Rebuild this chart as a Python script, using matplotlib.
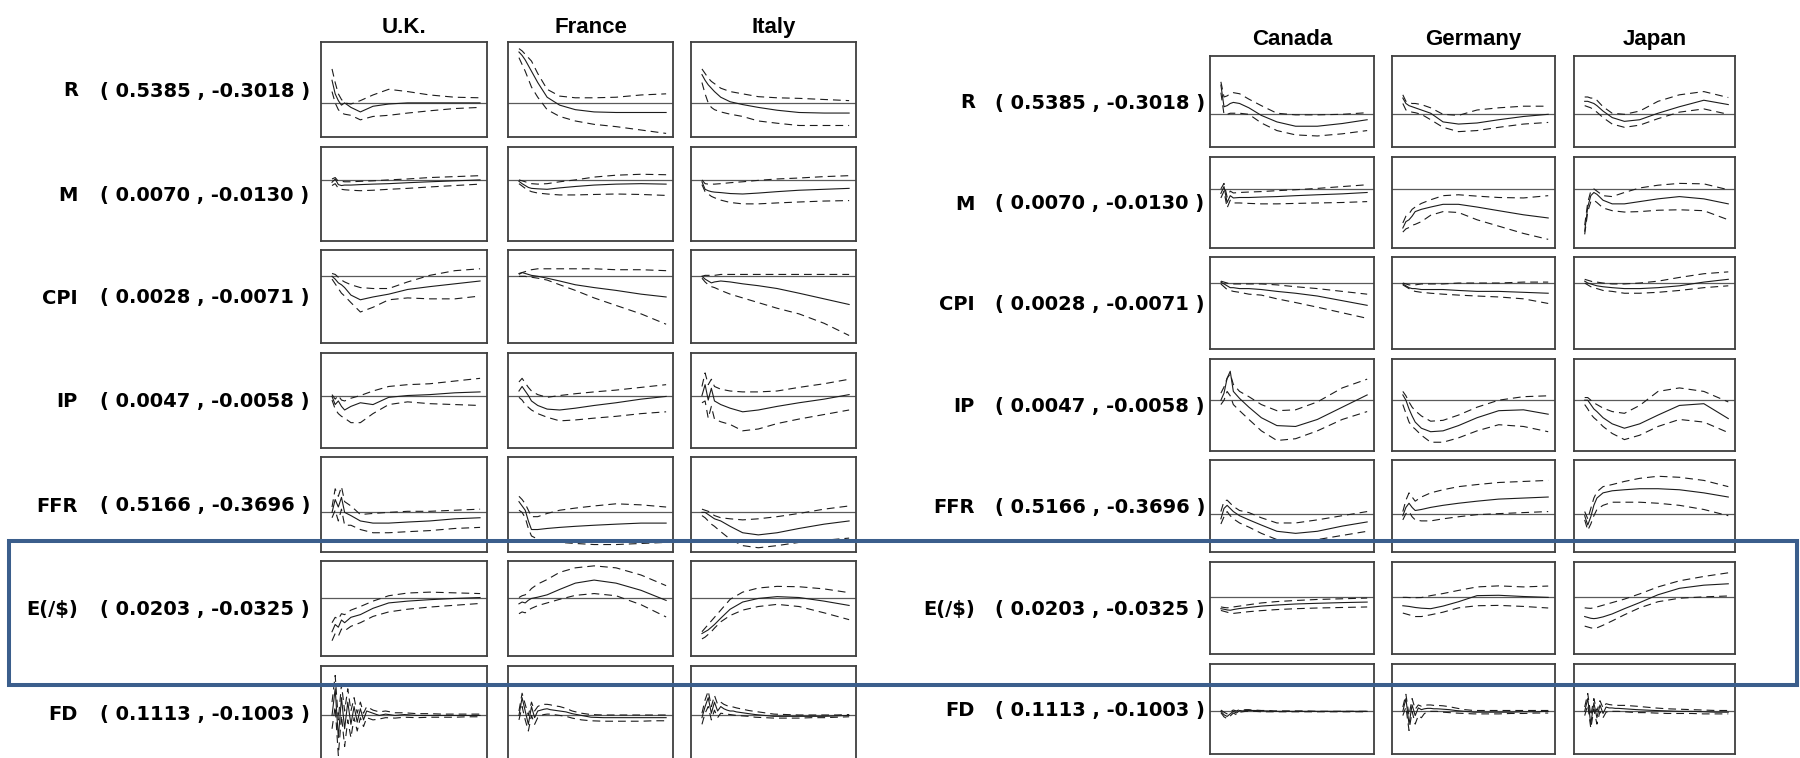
import matplotlib
matplotlib.use("Agg")
import matplotlib.pyplot as plt
from matplotlib.patches import Rectangle

# ---------------------------------------------------------------------------
# Data: impulse responses (median, lower and upper bands) by country
# ---------------------------------------------------------------------------
HORIZON = [1, 2, 3, 4, 5, 7, 10, 14, 19, 25, 32, 40, 48]
HORIZON_FD = [1, 2, 3, 4, 5, 6, 7, 8, 9, 10, 11, 12, 14, 16, 18, 21, 24, 28,
              32, 36, 40, 44, 48]

COUNTRIES_LEFT = ["U.K.", "France", "Italy"]
COUNTRIES_RIGHT = ["Canada", "Germany", "Japan"]
VARIABLES = ["R", "M", "CPI", "IP", "FFR", "E(/$)", "FD"]

# (upper bound, lower bound) of the vertical scale for each variable
BOUNDS = {
    "R": (0.5385, -0.3018),
    "M": (0.0070, -0.0130),
    "CPI": (0.0028, -0.0071),
    "IP": (0.0047, -0.0058),
    "FFR": (0.5166, -0.3696),
    "E(/$)": (0.0203, -0.0325),
    "FD": (0.1113, -0.1003),
}

R_MED = {
    "U.K.": [0.20, 0.08, 0.02, -0.02, 0.00, -0.04, -0.08, -0.03, -0.01, 0.00, 0.00, 0.00, 0.00],
    "France": [0.45, 0.42, 0.38, 0.33, 0.28, 0.18, 0.05, -0.02, -0.06, -0.08, -0.085, -0.085, -0.085],
    "Italy": [0.25, 0.20, 0.16, 0.13, 0.10, 0.05, 0.01, -0.015, -0.04, -0.065, -0.085, -0.09, -0.09],
    "Canada": [0.27, 0.07, 0.08, 0.10, 0.11, 0.10, 0.06, -0.01, -0.07, -0.11, -0.11, -0.085, -0.05],
    "Germany": [0.15, 0.10, 0.08, 0.07, 0.06, 0.04, 0.01, -0.07, -0.09, -0.08, -0.05, -0.02, 0.00],
    "Japan": [0.12, 0.12, 0.11, 0.10, 0.08, 0.03, -0.03, -0.065, -0.05, 0.01, 0.07, 0.13, 0.09],
}
R_HI = {
    "U.K.": [0.30, 0.18, 0.08, 0.03, 0.00, -0.01, 0.02, 0.07, 0.12, 0.10, 0.07, 0.05, 0.045],
    "France": [0.48, 0.46, 0.43, 0.40, 0.37, 0.26, 0.12, 0.06, 0.045, 0.045, 0.05, 0.07, 0.08],
    "Italy": [0.30, 0.26, 0.22, 0.19, 0.17, 0.13, 0.10, 0.08, 0.055, 0.045, 0.04, 0.03, 0.02],
    "Canada": [0.30, 0.16, 0.17, 0.19, 0.20, 0.19, 0.14, 0.08, 0.01, -0.005, -0.005, 0.00, 0.015],
    "Germany": [0.18, 0.12, 0.11, 0.10, 0.10, 0.09, 0.06, 0.00, -0.01, 0.04, 0.06, 0.075, 0.075],
    "Japan": [0.16, 0.16, 0.15, 0.15, 0.13, 0.07, 0.01, 0.00, 0.03, 0.12, 0.18, 0.21, 0.155],
}
R_LO = {
    "U.K.": [0.10, 0.00, -0.06, -0.09, -0.10, -0.11, -0.15, -0.12, -0.11, -0.09, -0.07, -0.05, -0.04],
    "France": [0.40, 0.34, 0.28, 0.21, 0.14, 0.05, -0.06, -0.12, -0.16, -0.19, -0.21, -0.24, -0.27],
    "Italy": [0.18, 0.08, 0.00, -0.04, -0.06, -0.08, -0.10, -0.12, -0.16, -0.18, -0.20, -0.20, -0.20],
    "Canada": [0.20, 0.00, 0.00, 0.01, 0.01, 0.01, 0.00, -0.08, -0.15, -0.19, -0.20, -0.18, -0.15],
    "Germany": [0.10, 0.04, 0.03, 0.02, 0.015, 0.00, -0.05, -0.12, -0.16, -0.15, -0.12, -0.09, -0.075],
    "Japan": [0.08, 0.07, 0.06, 0.04, 0.02, -0.03, -0.09, -0.12, -0.10, -0.04, 0.02, 0.05, 0.00],
}

M_MED = {
    "U.K.": [-0.0005, 0.0002, -0.0010, -0.0012, -0.0011, -0.0011, -0.0010, -0.0009, -0.0008, -0.0006, -0.0004, -0.0002, 0.0000],
    "France": [-0.0003, -0.0008, -0.0012, -0.0016, -0.0018, -0.0019, -0.0020, -0.0017, -0.0014, -0.0011, -0.0009, -0.0008, -0.0009],
    "Italy": [-0.0004, -0.0020, -0.0023, -0.0025, -0.0026, -0.0027, -0.0029, -0.0030, -0.0028, -0.0025, -0.0022, -0.0020, -0.0018],
    "Canada": [-0.0010, 0.0005, -0.0030, -0.0015, -0.0020, -0.0019, -0.0019, -0.0018, -0.0017, -0.0015, -0.0013, -0.0011, -0.0008],
    "Germany": [-0.0086, -0.0072, -0.0068, -0.0060, -0.0050, -0.0045, -0.0040, -0.0034, -0.0034, -0.0040, -0.0048, -0.0057, -0.0064],
    "Japan": [-0.0093, -0.0040, -0.0015, -0.0008, -0.0012, -0.0025, -0.0033, -0.0033, -0.0028, -0.0022, -0.0017, -0.0022, -0.0033],
}
M_HI = {
    "U.K.": [0.0002, 0.0005, -0.0003, -0.0003, -0.0004, -0.0004, -0.0003, -0.0002, 0.0000, 0.0002, 0.0005, 0.0007, 0.0009],
    "France": [0.0000, -0.0002, -0.0004, -0.0006, -0.0008, -0.0009, -0.0008, -0.0004, 0.0000, 0.0006, 0.0010, 0.0012, 0.0011],
    "Italy": [0.0000, -0.0008, -0.0009, -0.0009, -0.0009, -0.0008, -0.0006, -0.0004, -0.0001, 0.0002, 0.0004, 0.0007, 0.0009],
    "Canada": [0.0000, 0.0012, -0.0018, -0.0005, -0.0009, -0.0008, -0.0007, -0.0006, -0.0004, -0.0002, 0.0001, 0.0005, 0.0009],
    "Germany": [-0.0075, -0.0060, -0.0055, -0.0045, -0.0040, -0.0032, -0.0024, -0.0015, -0.0013, -0.0016, -0.0019, -0.0020, -0.0015],
    "Japan": [-0.0080, -0.0030, -0.0005, 0.0000, -0.0005, -0.0015, -0.0017, -0.0008, 0.0002, 0.0008, 0.0012, 0.0011, -0.0002],
}
M_LO = {
    "U.K.": [-0.0012, -0.0008, -0.0018, -0.0020, -0.0021, -0.0022, -0.0023, -0.0022, -0.0020, -0.0018, -0.0015, -0.0012, -0.0009],
    "France": [-0.0008, -0.0013, -0.0018, -0.0022, -0.0025, -0.0028, -0.0030, -0.0032, -0.0032, -0.0031, -0.0030, -0.0031, -0.0033],
    "Italy": [-0.0010, -0.0025, -0.0030, -0.0035, -0.0038, -0.0043, -0.0048, -0.0051, -0.0051, -0.0049, -0.0047, -0.0045, -0.0044],
    "Canada": [-0.0020, -0.0005, -0.0042, -0.0025, -0.0031, -0.0031, -0.0032, -0.0033, -0.0033, -0.0032, -0.0031, -0.0030, -0.0028],
    "Germany": [-0.0095, -0.0088, -0.0085, -0.0080, -0.0078, -0.0072, -0.0058, -0.0050, -0.0052, -0.0068, -0.0082, -0.0098, -0.0111],
    "Japan": [-0.0100, -0.0050, -0.0028, -0.0025, -0.0030, -0.0042, -0.0048, -0.0051, -0.0050, -0.0047, -0.0046, -0.0048, -0.0068],
}

CPI_MED = {
    "U.K.": [0.0000, -0.0003, -0.0007, -0.0009, -0.0012, -0.0020, -0.0025, -0.0022, -0.0019, -0.0014, -0.0011, -0.0008, -0.0005],
    "France": [0.0003, 0.0004, 0.0003, 0.0002, 0.0001, 0.0000, -0.0002, -0.0005, -0.0009, -0.0012, -0.0015, -0.0019, -0.0022],
    "Italy": [0.0000, -0.0003, -0.0005, -0.0007, -0.0006, -0.0005, -0.0006, -0.0008, -0.0010, -0.0013, -0.0018, -0.0024, -0.0030],
    "Canada": [0.0001, -0.0001, -0.0003, -0.0005, -0.0005, -0.0006, -0.0006, -0.0007, -0.0009, -0.0011, -0.0014, -0.0019, -0.0024],
    "Germany": [-0.0001, -0.0003, -0.0005, -0.0006, -0.0006, -0.0007, -0.0007, -0.0007, -0.0008, -0.0009, -0.0009, -0.0010, -0.0011],
    "Japan": [0.0002, 0.0000, -0.0001, -0.0002, -0.0003, -0.0004, -0.0005, -0.0006, -0.0006, -0.0005, -0.0003, 0.0001, 0.0004],
}
CPI_HI = {
    "U.K.": [0.0003, 0.0002, -0.0001, -0.0004, -0.0006, -0.0009, -0.0012, -0.0013, -0.0013, -0.0006, 0.0001, 0.0006, 0.0008],
    "France": [0.0002, 0.0004, 0.0005, 0.0006, 0.0007, 0.0008, 0.0008, 0.0008, 0.0008, 0.0008, 0.0007, 0.0007, 0.0006],
    "Italy": [0.0000, 0.0001, 0.0001, 0.0001, 0.0001, 0.0002, 0.0002, 0.0002, 0.0002, 0.0002, 0.0002, 0.0002, 0.0002],
    "Canada": [0.0002, 0.0001, 0.0000, -0.0001, -0.0001, -0.0001, -0.0001, -0.0001, -0.0002, -0.0004, -0.0006, -0.0009, -0.0012],
    "Germany": [0.0000, -0.0001, -0.0002, -0.0002, -0.0002, -0.0001, -0.0001, -0.0001, 0.0000, 0.0000, 0.0000, 0.0001, 0.0001],
    "Japan": [0.0004, 0.0003, 0.0002, 0.0001, 0.0001, 0.0000, -0.0001, -0.0001, 0.0000, 0.0002, 0.0006, 0.0010, 0.0012],
}
CPI_LO = {
    "U.K.": [-0.0003, -0.0008, -0.0013, -0.0018, -0.0021, -0.0028, -0.0038, -0.0033, -0.0025, -0.0023, -0.0024, -0.0024, -0.0021],
    "France": [0.0000, 0.0000, 0.0000, -0.0001, -0.0001, -0.0002, -0.0004, -0.0009, -0.0015, -0.0023, -0.0031, -0.0040, -0.0051],
    "Italy": [-0.0002, -0.0006, -0.0009, -0.0011, -0.0012, -0.0015, -0.0019, -0.0023, -0.0028, -0.0034, -0.0040, -0.0050, -0.0063],
    "Canada": [-0.0001, -0.0004, -0.0007, -0.0008, -0.0009, -0.0010, -0.0012, -0.0013, -0.0017, -0.0021, -0.0026, -0.0032, -0.0038],
    "Germany": [-0.0002, -0.0004, -0.0006, -0.0008, -0.0009, -0.0010, -0.0011, -0.0012, -0.0013, -0.0014, -0.0015, -0.0017, -0.0022],
    "Japan": [0.0000, -0.0002, -0.0004, -0.0005, -0.0006, -0.0008, -0.0009, -0.0011, -0.0011, -0.0010, -0.0008, -0.0005, -0.0003],
}

IP_MED = {
    "U.K.": [-0.0001, -0.0010, -0.0006, -0.0012, -0.0016, -0.0012, -0.0008, -0.0010, -0.0002, 0.0000, 0.0001, 0.0003, 0.0004],
    "France": [0.0005, 0.0010, 0.0005, 0.0000, -0.0006, -0.0011, -0.0015, -0.0016, -0.0014, -0.0011, -0.0008, -0.0004, -0.0001],
    "Italy": [0.0000, 0.0012, -0.0005, 0.0008, -0.0006, -0.0010, -0.0014, -0.0018, -0.0016, -0.0012, -0.0008, -0.0004, 0.0001],
    "Canada": [0.0000, 0.0008, 0.0025, 0.0033, 0.0010, 0.0002, -0.0008, -0.0020, -0.0029, -0.0030, -0.0022, -0.0008, 0.0006],
    "Germany": [0.0006, 0.0000, -0.0010, -0.0018, -0.0025, -0.0032, -0.0036, -0.0035, -0.0029, -0.0020, -0.0012, -0.0011, -0.0016],
    "Japan": [0.0000, 0.0000, -0.0005, -0.0010, -0.0013, -0.0020, -0.0027, -0.0032, -0.0027, -0.0017, -0.0006, -0.0004, -0.0021],
}
IP_HI = {
    "U.K.": [0.0001, -0.0004, 0.0000, -0.0005, -0.0006, -0.0003, 0.0000, 0.0005, 0.0010, 0.0012, 0.0013, 0.0016, 0.0019],
    "France": [0.0015, 0.0019, 0.0014, 0.0009, 0.0005, 0.0001, -0.0002, 0.0000, 0.0002, 0.0004, 0.0006, 0.0009, 0.0012],
    "Italy": [0.0010, 0.0025, 0.0012, 0.0018, 0.0010, 0.0007, 0.0005, 0.0004, 0.0004, 0.0005, 0.0009, 0.0013, 0.0018],
    "Canada": [0.0008, 0.0015, 0.0025, 0.0030, 0.0018, 0.0010, 0.0004, -0.0005, -0.0012, -0.0011, -0.0002, 0.0014, 0.0024],
    "Germany": [0.0010, 0.0005, -0.0002, -0.0008, -0.0012, -0.0018, -0.0024, -0.0023, -0.0017, -0.0008, 0.0000, 0.0004, 0.0005],
    "Japan": [0.0003, 0.0003, 0.0000, -0.0003, -0.0005, -0.0009, -0.0013, -0.0015, -0.0006, 0.0010, 0.0014, 0.0010, -0.0002],
}
IP_LO = {
    "U.K.": [-0.0005, -0.0015, -0.0020, -0.0023, -0.0025, -0.0030, -0.0030, -0.0020, -0.0010, -0.0007, -0.0009, -0.0010, -0.0011],
    "France": [-0.0002, -0.0005, -0.0010, -0.0013, -0.0016, -0.0020, -0.0024, -0.0028, -0.0027, -0.0025, -0.0023, -0.0020, -0.0018],
    "Italy": [-0.0008, -0.0006, -0.0025, -0.0012, -0.0026, -0.0029, -0.0032, -0.0039, -0.0037, -0.0031, -0.0026, -0.0021, -0.0016],
    "Canada": [-0.0005, 0.0000, 0.0010, 0.0005, -0.0005, -0.0012, -0.0022, -0.0035, -0.0046, -0.0044, -0.0035, -0.0022, -0.0013],
    "Germany": [-0.0005, -0.0015, -0.0025, -0.0030, -0.0033, -0.0040, -0.0048, -0.0048, -0.0043, -0.0035, -0.0028, -0.0030, -0.0036],
    "Japan": [-0.0005, -0.0010, -0.0016, -0.0020, -0.0023, -0.0030, -0.0038, -0.0045, -0.0040, -0.0030, -0.0022, -0.0025, -0.0037],
}

FFR_MED = {
    "U.K.": [0.00, 0.12, 0.05, 0.14, 0.00, -0.03, -0.08, -0.10, -0.10, -0.09, -0.08, -0.06, -0.05],
    "France": [0.10, 0.06, 0.02, -0.08, -0.16, -0.16, -0.15, -0.14, -0.13, -0.12, -0.11, -0.10, -0.10],
    "Italy": [0.00, 0.00, -0.02, -0.04, -0.06, -0.08, -0.13, -0.19, -0.21, -0.19, -0.15, -0.11, -0.08],
    "Canada": [-0.05, 0.05, 0.08, 0.05, 0.02, -0.02, -0.06, -0.11, -0.17, -0.19, -0.17, -0.12, -0.08],
    "Germany": [-0.02, 0.06, 0.10, 0.06, 0.03, 0.04, 0.06, 0.08, 0.10, 0.12, 0.14, 0.15, 0.16],
    "Japan": [-0.02, -0.11, -0.03, 0.08, 0.15, 0.20, 0.22, 0.23, 0.24, 0.24, 0.23, 0.20, 0.16],
}
FFR_HI = {
    "U.K.": [0.05, 0.22, 0.15, 0.24, 0.10, 0.06, -0.02, -0.01, 0.00, 0.01, 0.01, 0.02, 0.03],
    "France": [0.15, 0.12, 0.08, 0.02, -0.04, -0.04, -0.01, 0.02, 0.04, 0.06, 0.08, 0.07, 0.05],
    "Italy": [0.03, 0.02, 0.01, -0.01, -0.03, -0.05, -0.06, -0.07, -0.06, -0.04, -0.01, 0.03, 0.06],
    "Canada": [0.02, 0.12, 0.13, 0.10, 0.07, 0.03, 0.01, -0.04, -0.09, -0.09, -0.06, -0.02, 0.02],
    "Germany": [0.02, 0.13, 0.20, 0.16, 0.12, 0.16, 0.20, 0.23, 0.26, 0.28, 0.30, 0.31, 0.32],
    "Japan": [0.02, -0.05, 0.05, 0.15, 0.21, 0.26, 0.28, 0.31, 0.34, 0.36, 0.35, 0.32, 0.26],
}
FFR_LO = {
    "U.K.": [-0.05, 0.02, -0.08, 0.03, -0.12, -0.12, -0.16, -0.19, -0.19, -0.18, -0.17, -0.15, -0.14],
    "France": [0.02, 0.00, -0.05, -0.15, -0.22, -0.25, -0.27, -0.28, -0.29, -0.30, -0.30, -0.29, -0.28],
    "Italy": [-0.03, -0.05, -0.08, -0.11, -0.13, -0.18, -0.25, -0.31, -0.33, -0.31, -0.28, -0.26, -0.24],
    "Canada": [-0.10, -0.03, 0.02, -0.02, -0.05, -0.09, -0.13, -0.19, -0.25, -0.27, -0.25, -0.21, -0.17],
    "Germany": [-0.06, 0.00, 0.02, -0.03, -0.06, -0.07, -0.07, -0.05, -0.03, -0.01, 0.00, 0.01, 0.02],
    "Japan": [-0.06, -0.16, -0.10, -0.02, 0.04, 0.08, 0.11, 0.11, 0.11, 0.10, 0.08, 0.04, -0.02],
}

E_MED = {
    "U.K.": [-0.0190, -0.0150, -0.0165, -0.0125, -0.0140, -0.0110, -0.0095, -0.0060, -0.0030, -0.0020, -0.0012, -0.0005, 0.0000],
    "France": [-0.0035, -0.0025, -0.0030, -0.0015, -0.0005, 0.0002, 0.0015, 0.0045, 0.0080, 0.0097, 0.0080, 0.0040, -0.0016],
    "Italy": [-0.0200, -0.0190, -0.0180, -0.0165, -0.0150, -0.0115, -0.0065, -0.0025, -0.0005, 0.0005, 0.0000, -0.0020, -0.0044],
    "Canada": [-0.0065, -0.0068, -0.0072, -0.0074, -0.0070, -0.0064, -0.0058, -0.0050, -0.0044, -0.0038, -0.0034, -0.0030, -0.0027],
    "Germany": [-0.0048, -0.0050, -0.0052, -0.0055, -0.0058, -0.0062, -0.0065, -0.0050, -0.0025, 0.0010, 0.0012, 0.0005, 0.0000],
    "Japan": [-0.0110, -0.0115, -0.0120, -0.0122, -0.0120, -0.0112, -0.0095, -0.0065, -0.0030, 0.0015, 0.0052, 0.0070, 0.0078],
}
E_HI = {
    "U.K.": [-0.0140, -0.0110, -0.0120, -0.0090, -0.0095, -0.0070, -0.0050, -0.0020, 0.0010, 0.0025, 0.0030, 0.0026, 0.0022],
    "France": [0.0000, 0.0010, 0.0015, 0.0030, 0.0050, 0.0075, 0.0100, 0.0140, 0.0165, 0.0176, 0.0165, 0.0125, 0.0066],
    "Italy": [-0.0190, -0.0170, -0.0150, -0.0130, -0.0110, -0.0070, -0.0010, 0.0030, 0.0053, 0.0062, 0.0060, 0.0048, 0.0027],
    "Canada": [-0.0055, -0.0058, -0.0060, -0.0058, -0.0055, -0.0050, -0.0042, -0.0032, -0.0024, -0.0018, -0.0012, -0.0008, -0.0004],
    "Germany": [0.0000, 0.0000, -0.0001, -0.0002, -0.0002, -0.0001, 0.0010, 0.0022, 0.0040, 0.0060, 0.0066, 0.0060, 0.0065],
    "Japan": [-0.0060, -0.0062, -0.0063, -0.0060, -0.0055, -0.0045, -0.0030, -0.0010, 0.0020, 0.0060, 0.0095, 0.0120, 0.0141],
}
E_LO = {
    "U.K.": [-0.0240, -0.0200, -0.0215, -0.0175, -0.0185, -0.0160, -0.0140, -0.0105, -0.0080, -0.0065, -0.0053, -0.0043, -0.0033],
    "France": [-0.0090, -0.0080, -0.0085, -0.0070, -0.0060, -0.0045, -0.0030, -0.0010, 0.0012, 0.0022, 0.0010, -0.0040, -0.0108],
    "Italy": [-0.0230, -0.0220, -0.0205, -0.0190, -0.0170, -0.0135, -0.0100, -0.0070, -0.0050, -0.0038, -0.0050, -0.0085, -0.0123],
    "Canada": [-0.0075, -0.0080, -0.0085, -0.0090, -0.0092, -0.0088, -0.0082, -0.0076, -0.0070, -0.0065, -0.0061, -0.0058, -0.0055],
    "Germany": [-0.0090, -0.0095, -0.0100, -0.0105, -0.0110, -0.0110, -0.0100, -0.0085, -0.0060, -0.0048, -0.0046, -0.0052, -0.0061],
    "Japan": [-0.0165, -0.0170, -0.0175, -0.0178, -0.0175, -0.0160, -0.0135, -0.0100, -0.0060, -0.0025, -0.0005, 0.0003, 0.0008],
}

FD_MED = {
    "U.K.": [0.000, 0.060, -0.050, 0.040, -0.030, 0.030, -0.020, 0.020, -0.015, 0.015, -0.010, 0.010, 0.005, 0.000, 0.003, 0.000, 0.002, 0.000, 0.000, 0.000, 0.000, 0.000, 0.000],
    "France": [0.000, 0.040, 0.010, -0.020, 0.020, -0.005, 0.010, 0.012, 0.014, 0.015, 0.013, 0.012, 0.010, 0.008, 0.004, 0.000, -0.004, -0.005, -0.005, -0.005, -0.005, -0.005, -0.005],
    "Italy": [-0.005, 0.020, 0.040, 0.005, 0.030, 0.010, 0.020, 0.015, 0.012, 0.010, 0.010, 0.008, 0.006, 0.004, 0.002, 0.000, -0.002, -0.002, -0.002, -0.002, -0.002, -0.001, 0.000],
    "Canada": [0.000, -0.008, -0.012, -0.006, 0.000, -0.004, 0.002, 0.001, 0.002, 0.002, 0.002, 0.002, 0.001, 0.001, 0.000, 0.000, 0.000, 0.000, 0.000, 0.000, 0.000, 0.000, 0.000],
    "Germany": [0.000, 0.030, -0.030, 0.015, -0.010, 0.008, 0.004, 0.006, 0.007, 0.007, 0.006, 0.006, 0.005, 0.004, 0.002, 0.000, -0.002, -0.002, -0.002, -0.002, -0.001, -0.001, 0.000],
    "Japan": [0.000, 0.030, -0.030, 0.020, -0.015, 0.015, -0.005, 0.010, 0.008, 0.008, 0.007, 0.007, 0.006, 0.005, 0.004, 0.003, 0.002, 0.001, 0.000, 0.000, -0.001, -0.002, -0.002],
}
FD_HI = {
    "U.K.": [0.030, 0.090, -0.010, 0.070, 0.010, 0.060, 0.010, 0.040, 0.005, 0.030, 0.005, 0.020, 0.012, 0.008, 0.010, 0.006, 0.006, 0.004, 0.004, 0.003, 0.003, 0.003, 0.003],
    "France": [0.010, 0.050, 0.025, 0.000, 0.030, 0.010, 0.020, 0.024, 0.025, 0.025, 0.024, 0.022, 0.020, 0.016, 0.010, 0.005, 0.002, 0.001, 0.001, 0.001, 0.001, 0.001, 0.001],
    "Italy": [0.005, 0.035, 0.055, 0.020, 0.045, 0.025, 0.030, 0.025, 0.022, 0.020, 0.019, 0.017, 0.014, 0.011, 0.009, 0.006, 0.003, 0.002, 0.001, 0.001, 0.001, 0.001, 0.002],
    "Canada": [0.003, -0.002, -0.006, 0.000, 0.003, 0.001, 0.004, 0.003, 0.004, 0.004, 0.003, 0.003, 0.002, 0.002, 0.001, 0.001, 0.001, 0.001, 0.000, 0.000, 0.000, 0.000, 0.000],
    "Germany": [0.010, 0.040, -0.010, 0.030, 0.005, 0.015, 0.012, 0.014, 0.015, 0.015, 0.014, 0.014, 0.013, 0.011, 0.008, 0.004, 0.002, 0.002, 0.002, 0.002, 0.002, 0.002, 0.002],
    "Japan": [0.010, 0.042, -0.010, 0.030, 0.000, 0.025, 0.008, 0.018, 0.016, 0.015, 0.015, 0.014, 0.014, 0.013, 0.012, 0.010, 0.008, 0.006, 0.005, 0.004, 0.003, 0.002, 0.002],
}
FD_LO = {
    "U.K.": [-0.030, 0.020, -0.090, 0.000, -0.070, -0.010, -0.050, -0.005, -0.035, -0.005, -0.025, -0.005, -0.010, -0.008, -0.005, -0.006, -0.004, -0.005, -0.004, -0.004, -0.004, -0.003, -0.003],
    "France": [-0.010, 0.020, -0.010, -0.035, 0.000, -0.020, -0.005, 0.000, 0.002, 0.003, 0.003, 0.002, 0.000, -0.002, -0.006, -0.010, -0.012, -0.013, -0.013, -0.013, -0.013, -0.012, -0.012],
    "Italy": [-0.020, 0.005, 0.020, -0.010, 0.012, -0.005, 0.005, 0.004, 0.003, 0.002, 0.001, 0.000, -0.001, -0.002, -0.004, -0.005, -0.006, -0.006, -0.006, -0.005, -0.005, -0.004, -0.003],
    "Canada": [-0.003, -0.013, -0.017, -0.011, -0.004, -0.008, -0.002, -0.001, 0.000, 0.000, 0.000, 0.000, -0.001, -0.001, -0.001, -0.001, -0.001, -0.001, -0.001, -0.001, -0.001, -0.001, -0.001],
    "Germany": [-0.010, 0.010, -0.045, 0.000, -0.030, -0.010, -0.015, -0.005, -0.002, 0.000, 0.000, 0.000, -0.002, -0.003, -0.004, -0.005, -0.006, -0.006, -0.006, -0.005, -0.005, -0.004, -0.004],
    "Japan": [-0.010, 0.015, -0.040, 0.005, -0.030, 0.000, -0.015, -0.002, 0.000, 0.000, 0.000, 0.000, -0.001, -0.002, -0.003, -0.003, -0.004, -0.005, -0.005, -0.005, -0.006, -0.006, -0.006],
}

SERIES = {
    "R": (R_MED, R_LO, R_HI),
    "M": (M_MED, M_LO, M_HI),
    "CPI": (CPI_MED, CPI_LO, CPI_HI),
    "IP": (IP_MED, IP_LO, IP_HI),
    "FFR": (FFR_MED, FFR_LO, FFR_HI),
    "E(/$)": (E_MED, E_LO, E_HI),
    "FD": (FD_MED, FD_LO, FD_HI),
}

# ---------------------------------------------------------------------------
# Layout (pixel positions of the small panels)
# ---------------------------------------------------------------------------
W, H = 1800, 758
DPI = 100

LEFT_COLS = [(321, 487), (508, 673), (691, 856)]
LEFT_ROWS = [(42, 137), (147, 241), (250, 343), (353, 448), (457, 552),
             (561, 656), (666, 760)]
RIGHT_COLS = [(1210, 1374), (1392, 1555), (1574, 1735)]
RIGHT_ROWS = [(56, 147), (157, 248), (257, 349), (359, 451), (460, 552),
              (562, 654), (664, 754)]

GROUPS = [
    dict(countries=COUNTRIES_LEFT, cols=LEFT_COLS, rows=LEFT_ROWS,
         title_y=33, name_x=78, range_x=100),
    dict(countries=COUNTRIES_RIGHT, cols=RIGHT_COLS, rows=RIGHT_ROWS,
         title_y=45, name_x=975, range_x=995),
]

LINE_COLOR = "#1c1c1c"
FRAME_COLOR = "#3f3f3f"
ZERO_COLOR = "#5a5a5a"
HIGHLIGHT = "#3B5E8C"

TITLE_FONT = dict(family=["Liberation Sans", "DejaVu Sans"], weight="bold",
                  size=16)
LABEL_FONT = dict(family=["DejaVu Sans"], weight="bold", size=14)


def fx(x):
    return x / W


def fy(y):
    return 1 - y / H


fig = plt.figure(figsize=(W / DPI, H / DPI), dpi=DPI)
fig.patch.set_facecolor("white")

for group in GROUPS:
    cols, rows = group["cols"], group["rows"]
    for (x0, x1), country in zip(cols, group["countries"]):
        fig.text(fx((x0 + x1) / 2), fy(group["title_y"]), country,
                 ha="center", va="baseline", **TITLE_FONT)

    for (y0, y1), var in zip(rows, VARIABLES):
        top, bottom = BOUNDS[var]
        base = (y0 + y1) / 2 + 7
        fig.text(fx(group["name_x"]), fy(base), var, ha="right",
                 va="baseline", **LABEL_FONT)
        fig.text(fx(group["range_x"]), fy(base),
                 f"( {top:.4f} , {bottom:.4f} )", ha="left",
                 va="baseline", **LABEL_FONT)

        med, lo, hi = SERIES[var]
        horizon = HORIZON_FD if var == "FD" else HORIZON
        for (x0, x1), country in zip(cols, group["countries"]):
            ax = fig.add_axes([fx(x0), fy(y1), (x1 - x0) / W, (y1 - y0) / H])
            ax.axhline(0, color=ZERO_COLOR, lw=0.9, zorder=1)
            ax.plot(horizon, med[country], color=LINE_COLOR, lw=0.8,
                    zorder=3)
            for band in (lo[country], hi[country]):
                ax.plot(horizon, band, color=LINE_COLOR, lw=0.8,
                        dashes=(7, 4.5), zorder=2)
            ax.set_xlim(-2.5, 50.2)
            ax.set_ylim(bottom, top)
            ax.set_xticks([])
            ax.set_yticks([])
            for spine in ax.spines.values():
                spine.set_color(FRAME_COLOR)
                spine.set_linewidth(1.3)

# Highlight frame around the exchange-rate row
fig.add_artist(Rectangle((fx(9), fy(685)), (1797 - 9) / W, (685 - 541) / H,
                         transform=fig.transFigure, fill=False,
                         edgecolor=HIGHLIGHT, linewidth=2.9, zorder=10))

fig.savefig("out.png", dpi=DPI, facecolor="white")
